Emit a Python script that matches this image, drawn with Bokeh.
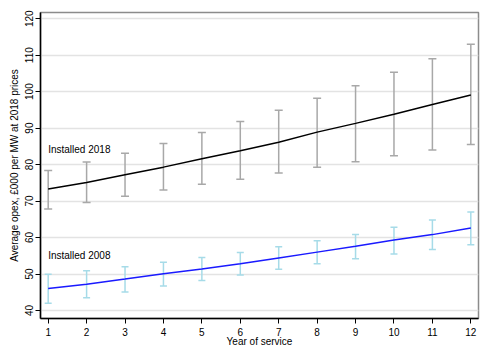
from bokeh.plotting import figure
from bokeh.models import ColumnDataSource, Whisker, TeeHead, Range1d, FixedTicker, Label
from bokeh.embed import file_html
from bokeh.resources import INLINE

years = [1, 2, 3, 4, 5, 6, 7, 8, 9, 10, 11, 12]

mean_2018 = [73.3, 75.1, 77.2, 79.3, 81.6, 83.8, 86.1, 88.9, 91.3, 93.8, 96.5, 99.1]
upper_2018 = [78.4, 80.7, 83.1, 85.8, 88.8, 91.8, 94.9, 98.2, 101.6, 105.3, 109.0, 113.0]
lower_2018 = [67.8, 69.6, 71.3, 73.0, 74.6, 76.0, 77.7, 79.3, 80.8, 82.4, 84.0, 85.5]

mean_2008 = [46.0, 47.2, 48.6, 50.1, 51.4, 52.8, 54.4, 56.0, 57.6, 59.3, 60.8, 62.6]
upper_2008 = [49.9, 50.9, 52.0, 53.2, 54.5, 55.9, 57.5, 59.1, 60.8, 62.8, 64.8, 67.0]
lower_2008 = [42.0, 43.5, 45.1, 46.7, 48.2, 49.7, 51.3, 52.8, 54.2, 55.5, 56.7, 58.0]

y_ticks = [40, 50, 60, 70, 80, 90, 100, 110, 120]

FONT = "Liberation Sans"

p = figure(width=481, height=349, output_backend="svg", toolbar_location=None,
           x_range=Range1d(0.8, 12.2), y_range=Range1d(37.8, 121.7),
           min_border_left=40, min_border_right=3, min_border_top=12, min_border_bottom=0)

p.background_fill_color = "white"
p.border_fill_color = "white"
p.outline_line_color = "#8c8c8c"
p.outline_line_width = 1.5

p.xgrid.grid_line_color = None
p.ygrid.grid_line_color = "#e3e3e3"
p.ygrid.grid_line_width = 1.5

p.xaxis.ticker = FixedTicker(ticks=years)
p.yaxis.ticker = FixedTicker(ticks=y_ticks)
for ax in (p.xaxis, p.yaxis):
    ax.axis_line_color = "black"
    ax.axis_line_width = 1.5
    ax.major_tick_line_color = "black"
    ax.major_tick_in = 0
    ax.major_tick_out = 5
    ax.minor_tick_line_color = None
    ax.major_label_text_font = FONT
    ax.major_label_text_font_size = "10px"
    ax.major_label_text_color = "black"
    ax.axis_label_text_font = FONT
    ax.axis_label_text_font_size = "10px"
    ax.axis_label_text_font_style = "normal"
    ax.axis_label_text_color = "black"

p.xaxis.axis_label = "Year of service"
p.xaxis.axis_label_standoff = -3
p.xaxis.major_label_standoff = 4
p.yaxis.axis_label = "Average opex, £000 per MW at 2018 prices"
p.yaxis.axis_label_standoff = 3
p.yaxis.major_label_orientation = "vertical"
p.yaxis.major_label_standoff = 2

src18 = ColumnDataSource(dict(x=years, m=mean_2018, u=upper_2018, l=lower_2018))
src08 = ColumnDataSource(dict(x=years, m=mean_2008, u=upper_2008, l=lower_2008))

w18 = Whisker(source=src18, base="x", upper="u", lower="l",
              line_color="#a8a8a8", line_width=1.5,
              upper_head=TeeHead(size=8, line_color="#a8a8a8", line_width=1.5),
              lower_head=TeeHead(size=8, line_color="#a8a8a8", line_width=1.5))
w08 = Whisker(source=src08, base="x", upper="u", lower="l",
              line_color="#a6dbe8", line_width=1.5,
              upper_head=TeeHead(size=7, line_color="#a6dbe8", line_width=1.5),
              lower_head=TeeHead(size=7, line_color="#a6dbe8", line_width=1.5))
p.add_layout(w18)
p.add_layout(w08)

p.line("x", "m", source=src18, line_color="black", line_width=1.5)
p.line("x", "m", source=src08, line_color="#1a1aff", line_width=1.5)

p.add_layout(Label(x=1.0, y=84.2, text="Installed 2018", text_font=FONT,
                   text_font_size="10px", text_baseline="middle", text_color="black"))
p.add_layout(Label(x=1.0, y=55.0, text="Installed 2008", text_font=FONT,
                   text_font_size="10px", text_baseline="middle", text_color="black"))

open("out.html", "w").write(file_html(p, INLINE))
